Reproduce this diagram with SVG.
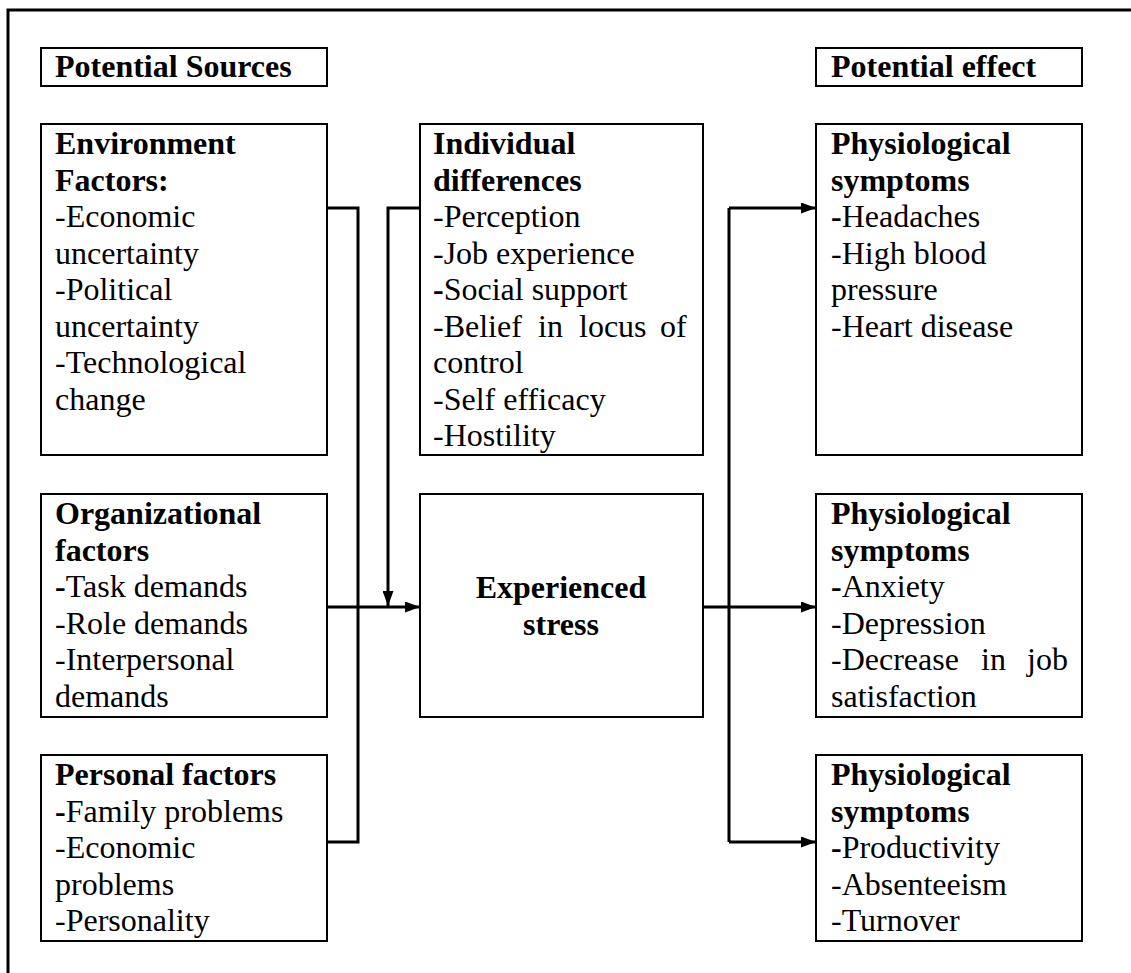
<svg xmlns="http://www.w3.org/2000/svg" width="1131" height="973" viewBox="0 0 1131 973">
  <style>
    .box { fill: #fff; stroke: #000; stroke-width: 2; }
    .frame { fill: none; stroke: #000; stroke-width: 3; }
    .wire { fill: none; stroke: #000; stroke-width: 3; }
    text { font-size: 32px; fill: #000; }
    .b { font-weight: bold; }
    .c { text-anchor: middle; }
  </style>
  <defs>
    <marker id="arrow" markerUnits="userSpaceOnUse" markerWidth="15" markerHeight="11" refX="15" refY="5.5" orient="auto">
      <path d="M0,0 L15,5.5 L0,11 z" fill="#000"/>
    </marker>
  </defs>

  <rect width="1131" height="973" fill="#fff"/>

  <!-- outer frame (open on the right and bottom) -->
  <path class="frame" d="M8,973 L8,10 L1131,10"/>

  <g font-family="Liberation Serif, Tinos, DejaVu Serif, Noto Serif, serif">
  <!-- column headers -->
  <g id="header-sources">
    <rect class="box" x="41" y="48" width="286" height="38"/>
    <text class="b" x="55" y="77">Potential Sources</text>
  </g>
  <g id="header-effect">
    <rect class="box" x="816" y="48" width="266" height="38"/>
    <text class="b" x="831" y="77">Potential effect</text>
  </g>

  <!-- connectors -->
  <g id="connectors">
    <!-- sources bus -->
    <path class="wire" d="M327,208 L358,208 L358,842 L327,842"/>
    <path class="wire" d="M327,607 L420,607" marker-end="url(#arrow)"/>
    <!-- individual differences moderate the stress -->
    <path class="wire" d="M420,208 L388,208 L388,606" marker-end="url(#arrow)"/>
    <!-- effects bus -->
    <path class="wire" d="M703,607 L816,607" marker-end="url(#arrow)"/>
    <path class="wire" d="M729,208 L729,842"/>
    <path class="wire" d="M729,208 L816,208" marker-end="url(#arrow)"/>
    <path class="wire" d="M729,842 L816,842" marker-end="url(#arrow)"/>
  </g>

  <!-- sources -->
  <g id="environment-factors">
    <rect class="box" x="41" y="124" width="286" height="331"/>
    <text class="b" x="55" y="154">Environment</text>
    <text class="b" x="55" y="190.5">Factors:</text>
    <text x="55" y="227">-Economic</text>
    <text x="55" y="263.5">uncertainty</text>
    <text x="55" y="300">-Political</text>
    <text x="55" y="336.5">uncertainty</text>
    <text x="55" y="373">-Technological</text>
    <text x="55" y="409.5">change</text>
  </g>
  <g id="organizational-factors">
    <rect class="box" x="41" y="494" width="286" height="223"/>
    <text class="b" x="55" y="524">Organizational</text>
    <text class="b" x="55" y="560.5">factors</text>
    <text x="55" y="597"><tspan class="b">-</tspan>Task demands</text>
    <text x="55" y="633.5">-Role demands</text>
    <text x="55" y="670">-Interpersonal</text>
    <text x="55" y="706.5">demands</text>
  </g>
  <g id="personal-factors">
    <rect class="box" x="41" y="755" width="286" height="186"/>
    <text class="b" x="55" y="785">Personal factors</text>
    <text x="55" y="821.5"><tspan class="b">-</tspan>Family problems</text>
    <text x="55" y="858">-Economic</text>
    <text x="55" y="894.5">problems</text>
    <text x="55" y="931">-Personality</text>
  </g>

  <!-- middle column -->
  <g id="individual-differences">
    <rect class="box" x="420" y="124" width="283" height="331"/>
    <text class="b" x="433" y="154">Individual</text>
    <text class="b" x="433" y="190.5">differences</text>
    <text x="433" y="227">-Perception</text>
    <text x="433" y="263.5">-Job experience</text>
    <text x="433" y="300"><tspan class="b">-</tspan>Social support</text>
    <text y="336.5"><tspan x="433">-Belief</tspan><tspan x="538">in</tspan><tspan x="579">locus</tspan><tspan x="660">of</tspan></text>
    <text x="433" y="373">control</text>
    <text x="433" y="409.5">-Self efficacy</text>
    <text x="433" y="446">-Hostility</text>
  </g>
  <g id="experienced-stress">
    <rect class="box" x="420" y="494" width="283" height="223"/>
    <text class="b c" x="561" y="598">Experienced</text>
    <text class="b c" x="561" y="635">stress</text>
  </g>

  <!-- effects -->
  <g id="physiological-symptoms">
    <rect class="box" x="816" y="124" width="266" height="331"/>
    <text class="b" x="831" y="154">Physiological</text>
    <text class="b" x="831" y="190.5">symptoms</text>
    <text x="831" y="227"><tspan class="b">-</tspan>Headaches</text>
    <text x="831" y="263.5">-High blood</text>
    <text x="831" y="300">pressure</text>
    <text x="831" y="336.5">-Heart disease</text>
  </g>
  <g id="psychological-symptoms">
    <rect class="box" x="816" y="494" width="266" height="223"/>
    <text class="b" x="831" y="524">Physiological</text>
    <text class="b" x="831" y="560.5">symptoms</text>
    <text x="831" y="597"><tspan class="b">-</tspan>Anxiety</text>
    <text x="831" y="633.5">-Depression</text>
    <text y="670"><tspan x="831">-Decrease</tspan><tspan x="981">in</tspan><tspan x="1027">job</tspan></text>
    <text x="831" y="706.5">satisfaction</text>
  </g>
  <g id="behavioral-symptoms">
    <rect class="box" x="816" y="755" width="266" height="186"/>
    <text class="b" x="831" y="785">Physiological</text>
    <text class="b" x="831" y="821.5">symptoms</text>
    <text x="831" y="858"><tspan class="b">-</tspan>Productivity</text>
    <text x="831" y="894.5">-Absenteeism</text>
    <text x="831" y="931">-Turnover</text>
  </g>
  </g>
</svg>
